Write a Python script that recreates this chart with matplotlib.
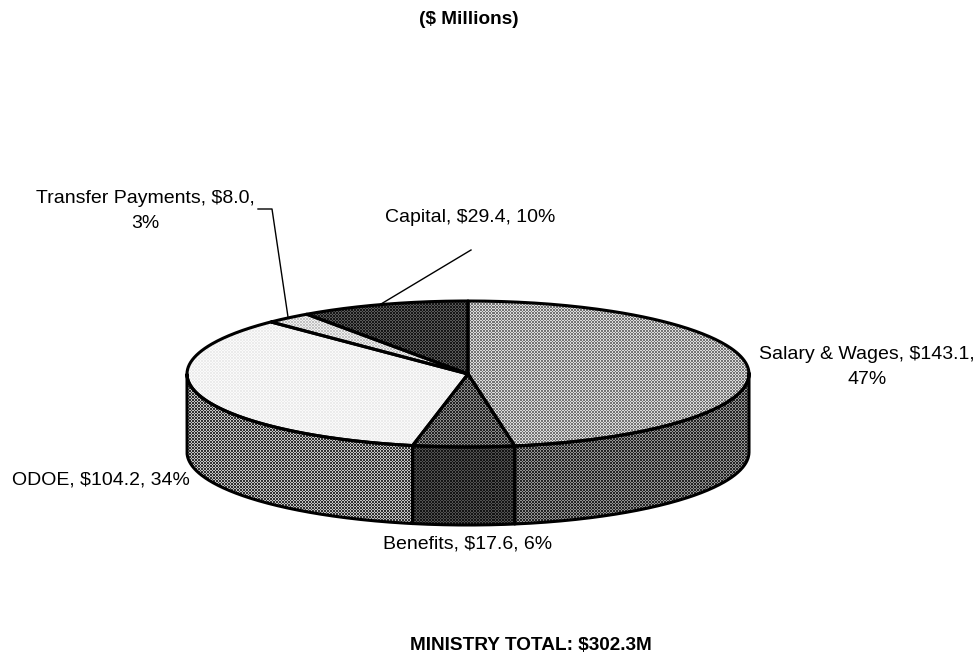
import numpy as np
import matplotlib
matplotlib.use("Agg")
import matplotlib.pyplot as plt
from matplotlib.patches import Polygon

plt.rcParams['font.family'] = ['Liberation Sans', 'DejaVu Sans']

categories = ['Salary & Wages', 'Benefits', 'ODOE', 'Transfer Payments', 'Capital']
values = [143.1, 17.6, 104.2, 8.0, 29.4]
percents = [47, 6, 34, 3, 10]

# grey level of the dithered fills (top face, wall)
top_grey = [0.66, 0.34, 0.95, 0.85, 0.22]
wall_grey = [0.36, 0.2, 0.48, 0.4, 0.2]

# pie geometry in pixels
cx, cy = 468, 374
rx, ry = 281, 73
depth = 78
W, H = 980, 654


def rim(a, b, n=200):
    # clockwise from 12 o'clock, flattened ellipse
    t = np.radians(np.linspace(a, b, n))
    return cx + rx * np.sin(t), cy - ry * np.cos(t)


def texture(level):
    # halftone dots, about 3 px period like the scanned original
    yy, xx = np.indices((H, W))
    dots = (((2 * xx // 3) + (2 * yy // 3)) % 2) * 2 - 1
    amp = min(level, 1 - level) * 0.6
    return np.clip(level + amp * dots, 0, 1)


def fill(ax, xs, ys, level):
    poly = Polygon(np.column_stack([xs, ys]), closed=True, fc='none', ec='none')
    ax.add_patch(poly)
    im = ax.imshow(texture(level), cmap='gray', vmin=0, vmax=1, extent=(0, W, H, 0),
                   interpolation='nearest', aspect='auto', zorder=1)
    im.set_clip_path(poly)


fig = plt.figure(figsize=(9.8, 6.54), dpi=100)
ax = fig.add_axes([0, 0, 1, 1])

lw = 2.2
edges = np.concatenate([[0], np.cumsum(values)]) / np.sum(values) * 360

# walls first, only the front half shows
for i in range(len(values)):
    a = max(edges[i], 90)
    b = min(edges[i + 1], 270)
    if a >= b:
        continue
    x, y = rim(a, b)
    xs = np.concatenate([x, x[::-1]])
    ys = np.concatenate([y, y[::-1] + depth])
    fill(ax, xs, ys, wall_grey[i])
    ax.plot(xs.tolist() + [xs[0]], ys.tolist() + [ys[0]], color='black', lw=lw,
            solid_joinstyle='round', zorder=3)

# top faces
for i in range(len(values)):
    x, y = rim(edges[i], edges[i + 1])
    xs = np.concatenate([[cx], x])
    ys = np.concatenate([[cy], y])
    fill(ax, xs, ys, top_grey[i])
    ax.plot(xs.tolist() + [cx], ys.tolist() + [cy], color='black', lw=lw,
            solid_joinstyle='round', zorder=4)

# leader lines
ax.plot([258, 272, 288], [209, 209, 317], color='black', lw=1.0, zorder=5)
ax.plot([471, 381], [250, 304], color='black', lw=1.0, zorder=5)

fs = 14.0
ax.text(468.5, 20, '($ Millions)', ha='center', va='center', fontsize=13.7, fontweight='bold')
ax.text(531, 645, 'MINISTRY TOTAL: $302.3M', ha='center', va='center', fontsize=13.7, fontweight='bold')

ax.text(867, 367, f'{categories[0]}, ${values[0]:.1f},\n{percents[0]}%', ha='center', va='center',
        fontsize=fs, linespacing=1.55)
ax.text(468, 544, f'{categories[1]}, ${values[1]:.1f}, {percents[1]}%', ha='center', va='center', fontsize=fs)
ax.text(100.5, 480, f'{categories[2]}, ${values[2]:.1f}, {percents[2]}%', ha='center', va='center', fontsize=fs)
ax.text(145, 211, f'{categories[3]}, ${values[3]:.1f},\n{percents[3]}%', ha='center', va='center',
        fontsize=fs, linespacing=1.55)
ax.text(470, 218, f'{categories[4]}, ${values[4]:.1f}, {percents[4]}%', ha='center', va='center', fontsize=fs)

ax.set_xlim(0, W)
ax.set_ylim(H, 0)
ax.axis('off')

plt.savefig('out.png', dpi=100)
plt.close()
